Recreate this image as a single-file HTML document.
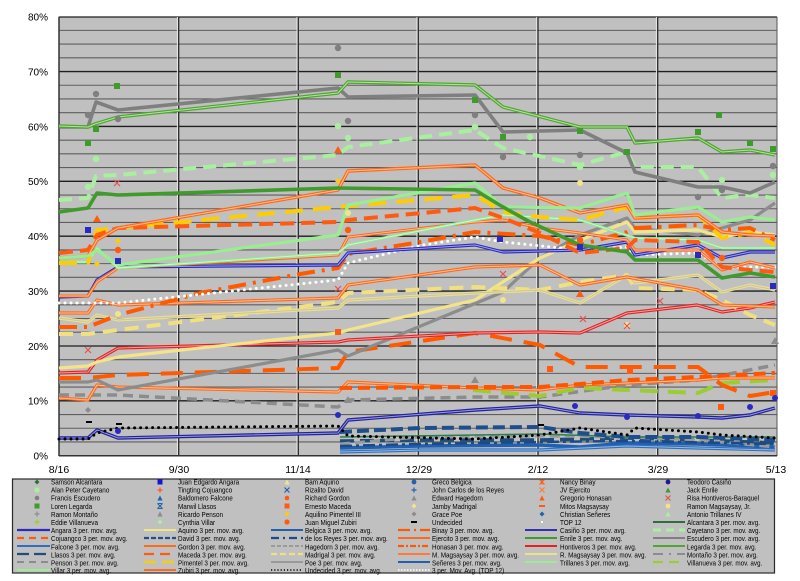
<!DOCTYPE html>
<html><head><meta charset="utf-8"><style>
html,body{margin:0;padding:0;background:#fff;width:800px;height:581px;overflow:hidden}
svg{display:block}
text{font-family:"Liberation Sans",Arial,sans-serif;fill:#000}
</style></head><body>
<svg width="800" height="581" viewBox="0 0 800 581" xmlns="http://www.w3.org/2000/svg">
<rect x="0" y="0" width="800" height="581" fill="#fff"/>
<!-- plot area -->
<rect x="59" y="16.7" width="718" height="439" fill="#c0c0c0"/>
<g stroke="#5e5e5e" stroke-width="1.1">
<line x1="59" x2="777" y1="441.98" y2="441.98"/><line x1="59" x2="777" y1="428.26" y2="428.26"/><line x1="59" x2="777" y1="414.54" y2="414.54"/>
<line x1="59" x2="777" y1="387.10" y2="387.10"/><line x1="59" x2="777" y1="373.38" y2="373.38"/><line x1="59" x2="777" y1="359.66" y2="359.66"/>
<line x1="59" x2="777" y1="332.22" y2="332.22"/><line x1="59" x2="777" y1="318.50" y2="318.50"/><line x1="59" x2="777" y1="304.78" y2="304.78"/>
<line x1="59" x2="777" y1="277.34" y2="277.34"/><line x1="59" x2="777" y1="263.62" y2="263.62"/><line x1="59" x2="777" y1="249.90" y2="249.90"/>
<line x1="59" x2="777" y1="222.46" y2="222.46"/><line x1="59" x2="777" y1="208.74" y2="208.74"/><line x1="59" x2="777" y1="195.02" y2="195.02"/>
<line x1="59" x2="777" y1="167.58" y2="167.58"/><line x1="59" x2="777" y1="153.86" y2="153.86"/><line x1="59" x2="777" y1="140.14" y2="140.14"/>
<line x1="59" x2="777" y1="112.70" y2="112.70"/><line x1="59" x2="777" y1="98.98" y2="98.98"/><line x1="59" x2="777" y1="85.26" y2="85.26"/>
<line x1="59" x2="777" y1="57.82" y2="57.82"/><line x1="59" x2="777" y1="44.10" y2="44.10"/><line x1="59" x2="777" y1="30.38" y2="30.38"/>
</g>
<g stroke="#1e1e1e" stroke-width="1.3">
<line x1="59" x2="777" y1="400.82" y2="400.82"/><line x1="59" x2="777" y1="346.0" y2="346.0"/><line x1="59" x2="777" y1="291.06" y2="291.06"/>
<line x1="59" x2="777" y1="236.18" y2="236.18"/><line x1="59" x2="777" y1="181.30" y2="181.30"/><line x1="59" x2="777" y1="126.42" y2="126.42"/>
<line x1="59" x2="777" y1="71.54" y2="71.54"/><line x1="59" x2="777" y1="17" y2="17"/>
</g>
<g stroke="#e8e8e8" stroke-width="1">
<line x1="177.4" x2="177.4" y1="17" y2="455.7"/><line x1="297" x2="297" y1="17" y2="455.7"/><line x1="417" x2="417" y1="17" y2="455.7"/><line x1="536.7" x2="536.7" y1="17" y2="455.7"/><line x1="656.4" x2="656.4" y1="17" y2="455.7"/>
</g>
<g stroke="#2a2a2a" stroke-width="1.3">
<line x1="178.7" x2="178.7" y1="17" y2="455.7"/><line x1="298.3" x2="298.3" y1="17" y2="455.7"/><line x1="418.3" x2="418.3" y1="17" y2="455.7"/><line x1="538" x2="538" y1="17" y2="455.7"/><line x1="657.7" x2="657.7" y1="17" y2="455.7"/>
</g>
<line x1="59" x2="59" y1="16.7" y2="456" stroke="#333" stroke-width="1.5"/>
<line x1="777" x2="777" y1="16.7" y2="456" stroke="#555" stroke-width="1"/>
<line x1="59" x2="777" y1="455.7" y2="455.7" stroke="#333" stroke-width="1.5"/>

<g fill="none" stroke-linejoin="round">
<!-- bottom bundle -->
<polyline points="340,448 420,446 540,445 580,447 627,443 698,444 775,447" stroke="#2060b0" stroke-width="3.5"/>
<polyline points="340,452 420,450 540,450 627,446 698,448 775,450" stroke="#2f6fc0" stroke-width="3.2"/>
<polyline points="340,452 420,450 540,450 627,446 698,448 775,450" stroke="#9ab8dc" stroke-width="1"/>
<polyline points="340,441 420,440 540,440 627,438 698,440 775,443" stroke="#1f4e79" stroke-width="3.5" stroke-dasharray="14 6"/>
<polyline points="340,444 420,437 540,436 627,437 698,440 775,447" stroke="#9a9a9a" stroke-width="3" stroke-dasharray="10 5"/>
<polyline points="340,437 540,434 627,437 775,437" stroke="#2e7d4e" stroke-width="1.5"/>
<polyline points="340,446 420,444 540,442 627,441 775,444" stroke="#1a4a8a" stroke-width="2.5" stroke-dasharray="12 4 3 4"/>
<polyline points="340,432 420,428 540,427 580,433 627,437 698,437 775,440" stroke="#1f4e8c" stroke-width="4" stroke-dasharray="12 5"/>
<!-- Casiño -->
<polyline points="59,438 88,438 97,430 118,438 338,433 348,420 475,410 540,406 580,413 627,415 698,417 722,418 750,415 775,408" stroke="#2222a0" stroke-width="3.4"/>
<polyline points="59,438 88,438 97,430 118,438 338,433 348,420 475,410 540,406 580,413 627,415 698,417 722,418 750,415 775,408" stroke="#9a9ad8" stroke-width="1"/>
<!-- Undecided -->
<polyline points="59,439 88,439 97,433 118,428 338,426 348,436 475,439 540,435 580,428 627,435 635,428 698,432 722,435 775,438" stroke="#000" stroke-width="3" stroke-dasharray="0 6" stroke-linecap="round"/>
<!-- Montaño -->
<polyline points="59,395 118,395 338,407 348,400 475,397 540,397 627,385 698,380 775,365" stroke="#8c8c8c" stroke-width="3.5" stroke-dasharray="10 6"/>
<!-- Villanueva -->
<polyline points="473,390 540,396 580,388 627,390 698,393 722,383 775,380" stroke="#9acd32" stroke-width="4" stroke-dasharray="18 10"/>
<!-- Ejercito double -->
<polyline points="59,398 88,400 97,385 118,387 338,392 348,382 475,388 540,390 580,385 627,383 698,380 722,378 775,378" stroke="#ff6a1a" stroke-width="3.2"/>
<polyline points="59,398 88,400 97,385 118,387 338,392 348,382 475,388 540,390 580,385 627,383 698,380 722,378 775,378" stroke="#ffc09a" stroke-width="1"/>
<!-- M. Magsaysay dashed -->
<polyline points="340,388 475,387 540,387 580,384 627,380 698,377 775,373" stroke="#ff5500" stroke-width="4" stroke-dasharray="12 6"/>
<!-- Maceda long dash -->
<polyline points="59,378 88,378 118,375 338,368 348,352 475,333 540,345 580,367 627,367 698,367 722,385 750,396 775,392" stroke="#ff5a00" stroke-width="4" stroke-dasharray="22 12"/>
<!-- Poe -->
<polyline points="59,382 88,382 97,380 118,390 338,350 348,356 503,292 540,258 580,235 627,218 635,228 698,235 722,228 750,220 775,203" stroke="#8c8c8c" stroke-width="3.2"/>
<!-- Hontiveros -->
<polyline points="59,373 88,372 97,360 118,348 338,342 348,340 475,333 540,332 580,333 627,313 697,305 722,312 750,308 775,302" stroke="#e52222" stroke-width="3.2"/>
<polyline points="59,373 88,372 97,360 118,348 338,342 348,340 475,333 540,332 580,333 627,313 697,305 722,312 750,308 775,302" stroke="#f4a0a0" stroke-width="1"/>
<!-- Aquino -->
<polyline points="59,368 88,366 97,362 118,357 338,333 348,330 475,300 540,258 580,240 627,222 635,232 698,230 722,237 750,232 775,235" stroke="#f3e48a" stroke-width="3.2"/>
<!-- Madrigal -->
<polyline points="59,334 88,334 118,330 338,302 348,293 475,287 540,290 580,282 627,275 635,288 698,290 722,300 750,315 775,325" stroke="#f0e080" stroke-width="4" stroke-dasharray="14 8"/>
<!-- R. Magsaysay double -->
<polyline points="59,318 88,322 97,315 118,320 338,308 348,300 475,293 540,290 580,303 627,275 635,283 698,275 722,292 750,285 775,290" stroke="#ece08a" stroke-width="3.2"/>
<polyline points="59,318 88,322 97,315 118,320 338,308 348,300 475,293 540,290 580,303 627,275 635,283 698,275 722,292 750,285 775,290" stroke="#c8c4a8" stroke-width="1"/>
<!-- Zubiri lower orange double -->
<polyline points="59,313 88,313 97,300 118,305 338,298 348,285 475,267 540,265 580,285 627,277 698,290 722,305 775,307" stroke="#ff6a1a" stroke-width="3.2"/>
<polyline points="59,313 88,313 97,300 118,305 338,298 348,285 475,267 540,265 580,285 627,277 698,290 722,305 775,307" stroke="#ffc09a" stroke-width="1"/>
<!-- Binay dash-dot -->
<polyline points="59,327 88,327 118,315 200,293 300,274 338,268 348,254 420,242 475,232 540,236 580,245 627,232 635,228 698,225 722,230 750,228 775,240" stroke="#ff5a00" stroke-width="4" stroke-dasharray="18 7 3 7"/>
<!-- TOP12 white dotted -->
<polyline points="59,303 88,303 118,303 338,280 348,263 423,245 475,237 503,242 580,250 627,247 635,255 698,253 722,268 750,267 775,267" stroke="#fff" stroke-width="3" stroke-dasharray="0 6" stroke-linecap="round"/>
<!-- Angara -->
<polyline points="59,297 88,296 97,280 118,267 338,265 348,253 475,245 503,252 580,250 627,242 635,255 698,245 722,258 750,252 775,252" stroke="#2a2ac0" stroke-width="3.2"/>
<polyline points="59,297 88,296 97,280 118,267 338,265 348,253 475,245 503,252 580,250 627,242 635,255 698,245 722,258 750,252 775,252" stroke="#a0a0e8" stroke-width="1"/>
<!-- another orange double -->
<polyline points="59,296 88,296 97,282 118,268 338,255 348,237 475,222 503,220 540,228 580,233 627,240 635,250 698,250 722,270 750,262 775,268" stroke="#ff6a1a" stroke-width="3"/>
<polyline points="59,296 88,296 97,282 118,268 338,255 348,237 475,222 503,220 540,228 580,233 627,240 635,250 698,250 722,270 750,262 775,268" stroke="#ffc09a" stroke-width="0.9"/>
<!-- Trillanes double -->
<polyline points="59,262 88,262 97,248 118,268 338,253 348,245 475,220 503,215 580,220 635,238 698,240 722,248 775,248" stroke="#90e890" stroke-width="3"/>
<polyline points="59,262 88,262 97,248 118,268 338,253 348,245 475,220 503,215 580,220 635,238 698,240 722,248 775,248" stroke="#d8f4d8" stroke-width="0.9"/>
<!-- Pimentel -->
<polyline points="59,263 88,263 97,230 118,228 338,207 475,195 503,212 540,217 580,220 627,207 635,218 698,215 722,238 750,233 775,245" stroke="#ffcc00" stroke-width="4" stroke-dasharray="18 10"/>
<!-- Cojuangco -->
<polyline points="59,253 88,250 97,235 118,228 338,222 348,220 475,208 503,218 540,233 580,253 627,248 635,240 698,242 722,267 750,270 775,272" stroke="#ff5a10" stroke-width="4" stroke-dasharray="14 7"/>
<!-- Gordon double -->
<polyline points="59,258 88,256 97,240 118,228 338,190 348,171 475,165 503,188 540,198 580,213 627,205 635,218 698,215 722,232 750,235 775,236" stroke="#ff6a1a" stroke-width="3.4"/>
<polyline points="59,258 88,256 97,240 118,228 338,190 348,171 475,165 503,188 540,198 580,213 627,205 635,218 698,215 722,232 750,235 775,236" stroke="#ffc09a" stroke-width="1"/>
<!-- Villar -->
<polyline points="59,258 88,256 97,250 118,265 338,235 348,205 475,183 503,207 580,208 627,193 635,215 698,207 722,222 750,217 775,220" stroke="#98ee90" stroke-width="3.2"/>
<!-- Enrile -->
<polyline points="59,212 88,208 97,193 118,195 338,188 475,190 503,207 530,222 580,245 627,252 635,260 698,260 722,278 750,273 775,277" stroke="#3f9b2b" stroke-width="3.6"/>
<!-- Cayetano -->
<polyline points="59,200 88,198 96,176 118,175 338,155 348,147 475,130 503,148 580,165 627,152 635,167 698,167 722,198 750,195 775,198" stroke="#a8f0a0" stroke-width="4" stroke-dasharray="13 7"/>
<!-- Escudero -->
<polyline points="59,127 88,127 96,102 118,110 338,88 348,97 475,95 503,132 580,130 627,153 635,172 698,187 722,187 750,193 775,182" stroke="#7f7f7f" stroke-width="3.6"/>
<!-- Legarda double -->
<polyline points="59,126 88,127 95,124 118,117 338,93 348,82 475,85 503,107 580,127 627,127 635,143 698,138 722,152 750,150 775,155" stroke="#4ea72e" stroke-width="3.4"/>
<polyline points="59,126 88,127 95,124 118,117 338,93 348,82 475,85 503,107 580,127 627,127 635,143 698,138 722,152 750,150 775,155" stroke="#b8e0a8" stroke-width="1"/>
</g>

<!-- markers -->
<g fill="#3f9b2b">
<rect x="114" y="83" width="6" height="6"/><rect x="85" y="140" width="6" height="6"/><rect x="93" y="126" width="6" height="6"/>
<rect x="335" y="72" width="6" height="6"/><rect x="472" y="97" width="6" height="6"/><rect x="500" y="134" width="6" height="6"/>
<rect x="577" y="128" width="6" height="6"/><rect x="624" y="149" width="6" height="6"/><rect x="695" y="129" width="6" height="6"/>
<rect x="747" y="140" width="6" height="6"/><rect x="770" y="146" width="6" height="6"/><rect x="716" y="112" width="6" height="6"/>
</g>
<g fill="#7f7f7f">
<circle cx="96" cy="94" r="3.2"/><circle cx="88" cy="115" r="3.2"/><circle cx="118" cy="119" r="3.2"/><circle cx="338" cy="48" r="3.2"/>
<circle cx="348" cy="121" r="3.2"/><circle cx="475" cy="115" r="3.2"/><circle cx="503" cy="157" r="3.2"/><circle cx="580" cy="155" r="3.2"/>
<circle cx="698" cy="197" r="3.2"/><circle cx="722" cy="190" r="3.2"/><circle cx="773" cy="166" r="3.2"/>
</g>
<g fill="#a8f0a0">
<circle cx="88" cy="187" r="3.2"/><circle cx="96" cy="159" r="3.2"/><circle cx="338" cy="126" r="3.2"/><circle cx="348" cy="138" r="3.2"/>
<circle cx="475" cy="127" r="3.2"/><circle cx="530" cy="137" r="3.2"/><circle cx="580" cy="167" r="3.2"/><circle cx="722" cy="180" r="3.2"/><circle cx="773" cy="175" r="3.2"/>
</g>
<g fill="#ff5a10">
<circle cx="118" cy="250" r="3.2"/><circle cx="348" cy="230" r="3.2"/><circle cx="580" cy="240" r="3.2"/><circle cx="722" cy="258" r="3.2"/>
<rect x="335" y="329" width="6" height="6"/><rect x="547" y="366" width="6" height="6"/><rect x="627" y="368" width="6" height="6"/><rect x="718" y="404" width="6" height="6"/><rect x="770" y="390" width="6" height="6"/>
<polygon points="97,215 101,222 93,222"/><polygon points="338,146 342,153 334,153"/><polygon points="580,290 584,297 576,297"/>
</g>
<g fill="#2a2ac0">
<rect x="85" y="227" width="6" height="6"/><rect x="115" y="258" width="6" height="6"/><rect x="497" y="236" width="6" height="6"/><rect x="577" y="244" width="6" height="6"/><rect x="695" y="252" width="6" height="6"/><rect x="770" y="283" width="6" height="6"/>
<circle cx="338" cy="415" r="3"/><circle cx="118" cy="431" r="3"/><circle cx="575" cy="406" r="3"/><circle cx="627" cy="417" r="3"/><circle cx="698" cy="416" r="3"/><circle cx="750" cy="407" r="3"/><circle cx="775" cy="398" r="3"/>
</g>
<g fill="#f3e48a">
<circle cx="118" cy="314" r="3"/><circle cx="348" cy="213" r="3"/><circle cx="580" cy="183" r="3"/><circle cx="627" cy="325" r="3"/><circle cx="503" cy="300" r="3"/>
</g>
<g fill="#ffcc00">
<polygon points="118,238 121,241 118,244 115,241"/><polygon points="338,178 341,181 338,184 335,181"/><polygon points="97,261 100,264 97,267 94,264"/>
</g>
<g stroke="#e85050" stroke-width="1.2" fill="none">
<path d="M85,347 l6,6 M91,347 l-6,6"/><path d="M335,286 l6,6 M341,286 l-6,6"/><path d="M624,323 l6,6 M630,323 l-6,6"/><path d="M500,271 l6,6 M506,271 l-6,6"/><path d="M580,316 l6,6 M586,316 l-6,6"/><path d="M657,298 l6,6 M663,298 l-6,6"/><path d="M114,180 l6,6 M120,180 l-6,6"/>
</g>
<g fill="#8c8c8c">
<polygon points="348,396 352,403 344,403"/><polygon points="475,376 479,383 471,383"/><polygon points="775,337 779,344 771,344"/><polygon points="88,407 91,410 88,413 85,410"/>
</g>
<g fill="#000"><rect x="116" y="423" width="6" height="2"/><rect x="86" y="421" width="6" height="2"/><rect x="538" y="424" width="6" height="2"/></g>

<!-- axis labels -->
<g font-size="10" text-anchor="end">
<text x="48" y="20.6">80%</text><text x="48" y="75.5">70%</text><text x="48" y="130.4">60%</text><text x="48" y="185.2">50%</text>
<text x="48" y="240.1">40%</text><text x="48" y="295">30%</text><text x="48" y="349.9">20%</text><text x="48" y="404.7">10%</text><text x="48" y="459.6">0%</text>
</g>
<g font-size="10.5" text-anchor="middle">
<text x="59" y="473">8/16</text><text x="179" y="473">9/30</text><text x="298" y="473">11/14</text><text x="419" y="473">12/29</text>
<text x="538" y="473">2/12</text><text x="658" y="473">3/29</text><text x="776" y="473">5/13</text>
</g>

<!-- legend -->
<rect x="12.5" y="479" width="762" height="94" fill="#c0c0c0" stroke="#2a2a2a" stroke-width="1.2"/>
<!-- legend markers -->
<g>
<!-- col1 -->
<polygon points="37,479.5 39.5,482 37,484.5 34.5,482" fill="#2e6e3e"/>
<circle cx="37" cy="490" r="2.6" fill="#a8f0a0"/>
<circle cx="37" cy="498" r="2.3" fill="#7f7f7f"/>
<rect x="34.5" y="503.5" width="5" height="5" fill="#3f9b2b"/>
<path d="M37,511.5 v5 M34.5,514 h5" stroke="#8c8c8c" stroke-width="1.2"/>
<path d="M37,519.5 v5 M34.5,522 h5" stroke="#9acd32" stroke-width="1.2"/>
<!-- col2 -->
<rect x="157.5" y="479.5" width="5" height="5" fill="#1515e0"/>
<path d="M160,487.5 v5 M157.5,490 h5" stroke="#ff5a10" stroke-width="1.2"/>
<polygon points="160,495.5 162.6,500.5 157.4,500.5" fill="#2060b0"/>
<path d="M157.5,503.5 l5,5 M162.5,503.5 l-5,5 M157.5,503.5 h5 M157.5,508.5 h5" stroke="#2060b0" stroke-width="1"/>
<polygon points="160,511.5 162.6,516.5 157.4,516.5" fill="#8c8c8c"/>
<polygon points="160,519.5 162.5,522 160,524.5 157.5,522" fill="#a8f0a0"/>
<!-- col3 -->
<polygon points="287,479.5 289.6,484.5 284.4,484.5" fill="#f3e48a"/>
<path d="M284.5,487.5 l5,5 M289.5,487.5 l-5,5" stroke="#2060b0" stroke-width="1.2"/>
<circle cx="287" cy="498" r="2.3" fill="#ff5a10"/>
<rect x="284.5" y="503.5" width="5" height="5" fill="#ff5a10"/>
<polygon points="287,511.5 289.5,514 287,516.5 284.5,514" fill="#ffcc00"/>
<circle cx="287" cy="522" r="2.6" fill="#ff5a10"/>
<!-- col4 -->
<circle cx="414" cy="482" r="2.4" fill="#2060b0"/>
<path d="M414,487.5 v5 M411.5,490 h5" stroke="#2060b0" stroke-width="1.2"/>
<polygon points="414,495.5 416.6,500.5 411.4,500.5" fill="#8c8c8c"/>
<polygon points="414,503.5 416.5,506 414,508.5 411.5,506" fill="#f3e48a"/>
<polygon points="414,511.5 416.5,514 414,516.5 411.5,514" fill="#8c8c8c"/>
<rect x="411" y="521" width="6" height="2" fill="#000"/>
<!-- col5 -->
<path d="M539.5,479.5 l5,5 M544.5,479.5 l-5,5 M542,479.5 v5" stroke="#ff5a10" stroke-width="1.1"/>
<path d="M539.5,487.5 l5,5 M544.5,487.5 l-5,5" stroke="#ff7a30" stroke-width="1.1"/>
<polygon points="542,495.5 544.6,500.5 539.4,500.5" fill="#ff5a10"/>
<rect x="539" y="505" width="6" height="2" fill="#ff5a10"/>
<polygon points="542,511.5 544.5,514 542,516.5 539.5,514" fill="#2060b0"/>
<rect x="541" y="521" width="2" height="2" fill="#fff"/>
<!-- col6 -->
<circle cx="668" cy="482" r="2.4" fill="#1a1a9a"/>
<polygon points="668,487.5 670.6,492.5 665.4,492.5" fill="#3f9b2b"/>
<path d="M665.5,495.5 l5,5 M670.5,495.5 l-5,5" stroke="#e85050" stroke-width="1.2"/>
<circle cx="668" cy="506" r="2.4" fill="#f3e48a"/>
<polygon points="668,511.5 670.6,516.5 665.4,516.5" fill="#a8f0a0"/>
</g>
<!-- legend line samples -->
<g fill="none">
<line x1="17" x2="50" y1="530" y2="530" stroke="#2a2ac0" stroke-width="2.2"/>
<line x1="17" x2="50" y1="538" y2="538" stroke="#ff5a10" stroke-width="2.2" stroke-dasharray="7 5"/>
<line x1="17" x2="50" y1="546" y2="546" stroke="#2f6fc0" stroke-width="2"/>
<line x1="17" x2="50" y1="554" y2="554" stroke="#1f4e79" stroke-width="2.2" stroke-dasharray="12 5"/>
<line x1="17" x2="50" y1="562" y2="562" stroke="#8c8c8c" stroke-width="2" stroke-dasharray="7 5"/>
<line x1="17" x2="50" y1="570" y2="570" stroke="#98ee90" stroke-width="2"/>

<line x1="144" x2="176" y1="530" y2="530" stroke="#f3e48a" stroke-width="2"/>
<line x1="144" x2="176" y1="538" y2="538" stroke="#1f4e8c" stroke-width="2.2" stroke-dasharray="5 2"/>
<line x1="144" x2="176" y1="546" y2="546" stroke="#ff6a1a" stroke-width="2"/>
<line x1="144" x2="176" y1="554" y2="554" stroke="#ff5a10" stroke-width="2.2" stroke-dasharray="10 6"/>
<line x1="144" x2="176" y1="562" y2="562" stroke="#ffcc00" stroke-width="2.2" stroke-dasharray="12 6"/>
<line x1="144" x2="176" y1="570" y2="570" stroke="#ff6a1a" stroke-width="2"/>

<line x1="271" x2="303" y1="530" y2="530" stroke="#2060b0" stroke-width="2"/>
<line x1="271" x2="303" y1="538" y2="538" stroke="#1a4a8a" stroke-width="2.2" stroke-dasharray="8 4 2 4"/>
<line x1="271" x2="303" y1="546" y2="546" stroke="#9a9a9a" stroke-width="2" stroke-dasharray="4 2"/>
<line x1="271" x2="303" y1="554" y2="554" stroke="#f0e080" stroke-width="2.2" stroke-dasharray="6 3"/>
<line x1="271" x2="303" y1="562" y2="562" stroke="#8c8c8c" stroke-width="1.6"/>
<line x1="271" x2="303" y1="570" y2="570" stroke="#000" stroke-width="1.6" stroke-dasharray="1.2 2"/>

<line x1="398" x2="430" y1="530" y2="530" stroke="#ff5a00" stroke-width="2.2" stroke-dasharray="12 4 2 4"/>
<line x1="398" x2="430" y1="538" y2="538" stroke="#ff6a1a" stroke-width="2"/>
<line x1="398" x2="430" y1="546" y2="546" stroke="#ff5a00" stroke-width="2.2" stroke-dasharray="6 2 2 2"/>
<line x1="398" x2="430" y1="554" y2="554" stroke="#ff7a3a" stroke-width="2"/>
<line x1="398" x2="430" y1="562" y2="562" stroke="#2060b0" stroke-width="2"/>
<line x1="398" x2="430" y1="570" y2="570" stroke="#fff" stroke-width="1.6" stroke-dasharray="1.5 1.5"/>

<line x1="525" x2="557" y1="530" y2="530" stroke="#3030b0" stroke-width="2"/>
<line x1="525" x2="557" y1="538" y2="538" stroke="#3f9b2b" stroke-width="2"/>
<line x1="525" x2="557" y1="546" y2="546" stroke="#e52222" stroke-width="2"/>
<line x1="525" x2="557" y1="554" y2="554" stroke="#ece08a" stroke-width="2"/>
<line x1="525" x2="557" y1="562" y2="562" stroke="#98ee90" stroke-width="2"/>

<line x1="653" x2="685" y1="522" y2="522" stroke="#2e6e3e" stroke-width="2"/>
<line x1="653" x2="685" y1="530" y2="530" stroke="#a8f0a0" stroke-width="3" stroke-dasharray="8 5"/>
<line x1="653" x2="685" y1="538" y2="538" stroke="#7f7f7f" stroke-width="2"/>
<line x1="653" x2="685" y1="546" y2="546" stroke="#4ea72e" stroke-width="2"/>
<line x1="653" x2="685" y1="554" y2="554" stroke="#8c8c8c" stroke-width="2" stroke-dasharray="10 6 2 6"/>
<line x1="653" x2="685" y1="562" y2="562" stroke="#9acd32" stroke-width="2.2" stroke-dasharray="10 6"/>
</g>
<!-- legend text -->
<g font-size="7.2">
<g transform="translate(51,0) scale(0.88,1)">
<text x="0" y="484.5">Samson Alcantara</text><text x="0" y="492.6">Alan Peter Cayetano</text><text x="0" y="500.7">Francis Escudero</text>
<text x="0" y="508.8">Loren Legarda</text><text x="0" y="516.9">Ramon Montaño</text><text x="0" y="525">Eddie Villanueva</text>
<text x="0" y="533.1">Angara 3 per. mov. avg.</text><text x="0" y="541.2">Cojuangco 3 per. mov. avg.</text><text x="0" y="549.3">Falcone 3 per. mov. avg.</text>
<text x="0" y="557.4">Llasos  3 per. mov. avg.</text><text x="0" y="565.5">Penson 3 per. mov. avg.</text><text x="0" y="573.2">Villar 3 per. mov. avg.</text>
</g>
<g transform="translate(178,0) scale(0.88,1)">
<text x="0" y="484.5">Juan Edgardo Angara</text><text x="0" y="492.6">Tingting Cojuangco</text><text x="0" y="500.7">Baldomero Falcone</text>
<text x="0" y="508.8">Marwil Llasos</text><text x="0" y="516.9">Ricardo Penson</text><text x="0" y="525">Cynthia Villar</text>
<text x="0" y="533.1">Aquino 3 per. mov. avg.</text><text x="0" y="541.2">David 3 per. mov. avg.</text><text x="0" y="549.3">Gordon 3 per. mov. avg.</text>
<text x="0" y="557.4">Maceda 3 per. mov. avg.</text><text x="0" y="565.5">Pimentel 3 per. mov. avg.</text><text x="0" y="573.2">Zubiri 3 per. mov. avg.</text>
</g>
<g transform="translate(305,0) scale(0.88,1)">
<text x="0" y="484.5">Bam Aquino</text><text x="0" y="492.6">Rizalito David</text><text x="0" y="500.7">Richard Gordon</text>
<text x="0" y="508.8">Ernesto Maceda</text><text x="0" y="516.9">Aquilino Pimentel III</text><text x="0" y="525">Juan Miguel Zubiri</text>
<text x="0" y="533.1">Belgica 3 per. mov. avg.</text><text x="0" y="541.2">de los Reyes 3 per. mov. avg.</text><text x="0" y="549.3">Hagedorn 3 per. mov. avg.</text>
<text x="0" y="557.4">Madrigal 3 per. mov. avg.</text><text x="0" y="565.5">Poe 3 per. mov. avg.</text><text x="0" y="573.2">Undecided 3 per. mov. avg.</text>
</g>
<g transform="translate(432,0) scale(0.88,1)">
<text x="0" y="484.5">Greco Belgica</text><text x="0" y="492.6">John Carlos de los Reyes</text><text x="0" y="500.7">Edward Hagedorn</text>
<text x="0" y="508.8">Jamby Madrigal</text><text x="0" y="516.9">Grace Poe</text><text x="0" y="525">Undecided</text>
<text x="0" y="533.1">Binay 3 per. mov. avg.</text><text x="0" y="541.2">Ejercito 3 per. mov. avg.</text><text x="0" y="549.3">Honasan 3 per. mov. avg.</text>
<text x="0" y="557.4">M. Magsaysay 3 per. mov. avg.</text><text x="0" y="565.5">Señeres 3 per. mov. avg.</text><text x="0" y="573.2">3 per. Mov. Avg. (TOP 12)</text>
</g>
<g transform="translate(560,0) scale(0.88,1)">
<text x="0" y="484.5">Nancy Binay</text><text x="0" y="492.6">JV Ejercito</text><text x="0" y="500.7">Gregorio Honasan</text>
<text x="0" y="508.8">Mitos Magsaysay</text><text x="0" y="516.9">Christian Señeres</text><text x="0" y="525">TOP 12</text>
<text x="0" y="533.1">Casiño 3 per. mov. avg.</text><text x="0" y="541.2">Enrile 3 per. mov. avg.</text><text x="0" y="549.3">Hontiveros 3 per. mov. avg.</text>
<text x="0" y="557.4">R. Magsaysay 3 per. mov. avg.</text><text x="0" y="565.5">Trillanes 3 per. mov. avg.</text>
</g>
<g transform="translate(687,0) scale(0.88,1)">
<text x="0" y="484.5">Teodoro Casiño</text><text x="0" y="492.6">Jack Enrile</text><text x="0" y="500.7">Risa Hontiveros-Baraquel</text>
<text x="0" y="508.8">Ramon Magsaysay, Jr.</text><text x="0" y="516.9">Antonio Trillanes IV</text><text x="0" y="525">Alcantara 3 per. mov. avg.</text>
<text x="0" y="533.1">Cayetano 3 per. mov. avg.</text><text x="0" y="541.2">Escudero 3 per. mov. avg.</text><text x="0" y="549.3">Legarda 3 per. mov. avg.</text>
<text x="0" y="557.4">Montaño 3 per. mov. avg.</text><text x="0" y="565.5">Villanueva 3 per. mov. avg.</text>
</g>
</g>
</svg>
</body></html>
